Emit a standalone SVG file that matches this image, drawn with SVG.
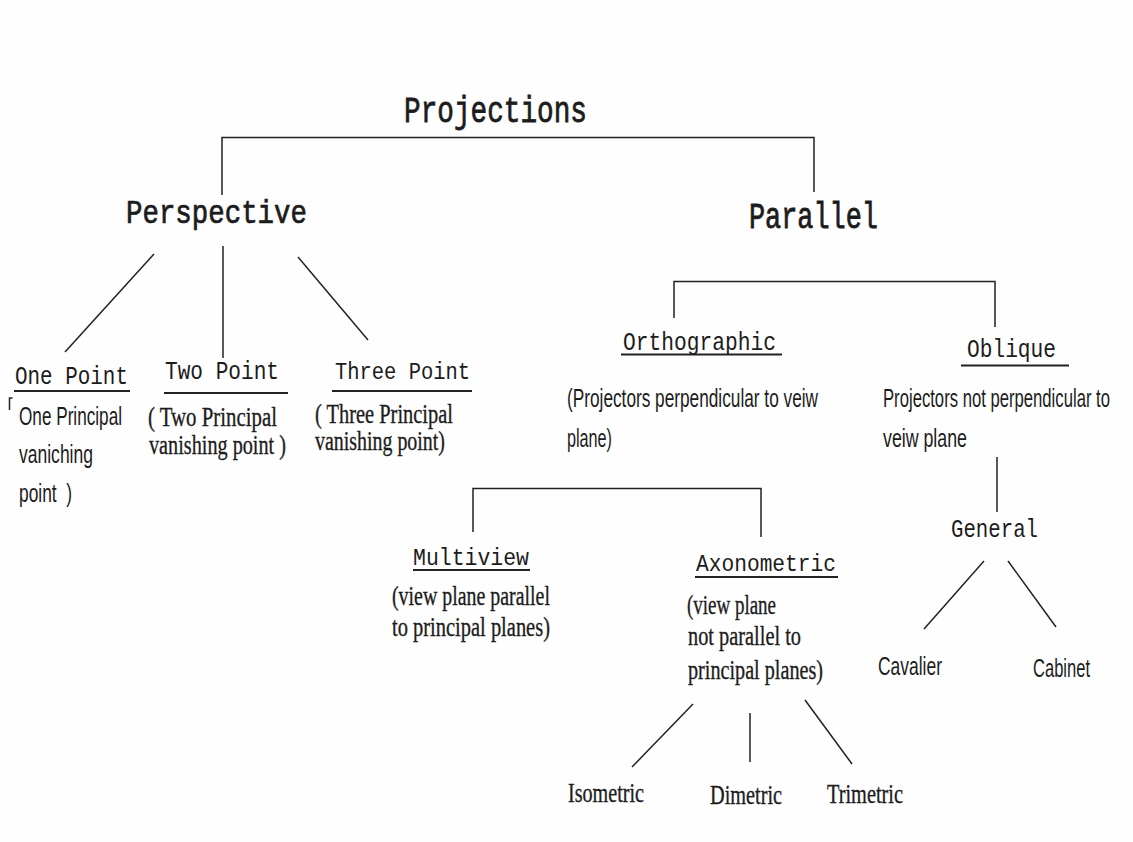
<svg xmlns="http://www.w3.org/2000/svg" width="1133" height="842" viewBox="0 0 1133 842">
<style>
.mono{font-family:"Liberation Mono","Courier New",monospace;fill:#1c1c1c}
.hd{stroke:#1c1c1c;stroke-width:0.6}
.sans{font-family:"Liberation Sans",Arial,sans-serif;font-size:17px;fill:#1c1c1c}
.serif{font-family:"Liberation Serif","Times New Roman",serif;font-size:20px;fill:#1c1c1c;stroke:#1c1c1c;stroke-width:0.25}
.ln{stroke:#222;stroke-width:1.5;fill:none}
.ul{stroke:#222;stroke-width:2;fill:none}
</style>
<rect width="1133" height="842" fill="#fefefe"/>
<g id="connectors">
<polyline class="ln" points="222,195 222,137.5 814,137.5 814,192"/>
<line class="ln" x1="154" y1="254" x2="65" y2="352"/>
<line class="ln" x1="223" y1="246" x2="223" y2="358"/>
<line class="ln" x1="298" y1="257" x2="368" y2="340"/>
<polyline class="ln" points="674,318 674,281.5 995,281.5 995,327"/>
<line class="ln" x1="997" y1="457" x2="997" y2="512"/>
<line class="ln" x1="984" y1="561" x2="924" y2="629"/>
<line class="ln" x1="1008" y1="561" x2="1056" y2="627"/>
<polyline class="ln" points="473,532 473,488.5 761,488.5 761,537"/>
<line class="ln" x1="693" y1="704" x2="632" y2="767"/>
<line class="ln" x1="750" y1="713" x2="750" y2="762"/>
<line class="ln" x1="805" y1="700" x2="852" y2="764"/>
</g>
<g id="projections"><text class="mono hd" x="404" y="122" font-size="27.7" textLength="183" lengthAdjust="spacingAndGlyphs" transform="matrix(1 0 0 1.3 0 -36.6)">Projections</text></g>
<g id="perspective"><text class="mono hd" x="126" y="223" font-size="27.4" textLength="181" lengthAdjust="spacingAndGlyphs" transform="matrix(1 0 0 1.24 0 -53.52)">Perspective</text></g>
<g id="parallel"><text class="mono hd" x="749" y="228" font-size="26.9" textLength="129" lengthAdjust="spacingAndGlyphs" transform="matrix(1 0 0 1.34 0 -77.52)">Parallel</text></g>
<g id="one-point">
<text class="mono" x="15" y="384" font-size="20.9" textLength="113" lengthAdjust="spacingAndGlyphs" transform="matrix(1 0 0 1.2 0 -76.8)">One Point</text>
<line class="ul" x1="14" y1="391" x2="130" y2="391"/>
<path class="ln" d="M12.5,398 L9.5,398 L9.5,410"/>
<text class="sans" x="19" y="425" textLength="103" lengthAdjust="spacingAndGlyphs" transform="matrix(1 0 0 1.55 0 -233.75)">One Principal</text>
<text class="sans" x="19" y="463" textLength="74" lengthAdjust="spacingAndGlyphs" transform="matrix(1 0 0 1.55 0 -254.65)">vaniching</text>
<text class="sans" x="19" y="502" textLength="53" lengthAdjust="spacingAndGlyphs" xml:space="preserve" transform="matrix(1 0 0 1.55 0 -276.1)">point  )</text>
</g>
<g id="two-point">
<text class="mono" x="165" y="379" font-size="21.1" textLength="114" lengthAdjust="spacingAndGlyphs" transform="matrix(1 0 0 1.2 0 -75.8)">Two Point</text>
<line class="ul" x1="164" y1="393" x2="288" y2="393"/>
<text class="serif" x="148" y="426" textLength="129" lengthAdjust="spacingAndGlyphs" transform="matrix(1 0 0 1.4 0 -170.4)">( Two Principal</text>
<text class="serif" x="149" y="454" textLength="137" lengthAdjust="spacingAndGlyphs" transform="matrix(1 0 0 1.4 0 -181.6)">vanishing point )</text>
</g>
<g id="three-point">
<text class="mono" x="335" y="379" font-size="20.5" textLength="135" lengthAdjust="spacingAndGlyphs" transform="matrix(1 0 0 1.2 0 -75.8)">Three Point</text>
<line class="ul" x1="332" y1="391" x2="472" y2="391"/>
<text class="serif" x="315" y="423" textLength="138" lengthAdjust="spacingAndGlyphs" transform="matrix(1 0 0 1.4 0 -169.2)">( Three Principal</text>
<text class="serif" x="315" y="450" textLength="130" lengthAdjust="spacingAndGlyphs" transform="matrix(1 0 0 1.4 0 -180)">vanishing point)</text>
</g>
<g id="orthographic">
<text class="mono" x="623" y="350" font-size="21.2" textLength="153" lengthAdjust="spacingAndGlyphs" transform="matrix(1 0 0 1.2 0 -70)">Orthographic</text>
<line class="ul" x1="621" y1="354.5" x2="782" y2="354.5"/>
<text class="sans" x="567" y="407" textLength="251" lengthAdjust="spacingAndGlyphs" transform="matrix(1 0 0 1.55 0 -223.85)">(Projectors perpendicular to veiw</text>
<text class="sans" x="567" y="447" textLength="45" lengthAdjust="spacingAndGlyphs" transform="matrix(1 0 0 1.55 0 -245.85)">plane)</text>
</g>
<g id="oblique">
<text class="mono" x="967" y="357" font-size="21.2" textLength="89" lengthAdjust="spacingAndGlyphs" transform="matrix(1 0 0 1.2 0 -71.4)">Oblique</text>
<line class="ul" x1="961" y1="365.5" x2="1069" y2="365.5"/>
<text class="sans" x="883" y="407" textLength="227" lengthAdjust="spacingAndGlyphs" transform="matrix(1 0 0 1.55 0 -223.85)">Projectors not perpendicular to</text>
<text class="sans" x="883" y="447" textLength="84" lengthAdjust="spacingAndGlyphs" transform="matrix(1 0 0 1.55 0 -245.85)">veiw plane</text>
</g>
<g id="general"><text class="mono" x="951" y="537" font-size="20.7" textLength="87" lengthAdjust="spacingAndGlyphs" transform="matrix(1 0 0 1.2 0 -107.4)">General</text></g>
<g id="cavalier"><text class="sans" x="878" y="675" textLength="64" lengthAdjust="spacingAndGlyphs" transform="matrix(1 0 0 1.55 0 -371.25)">Cavalier</text></g>
<g id="cabinet"><text class="sans" x="1033" y="677" textLength="57" lengthAdjust="spacingAndGlyphs" transform="matrix(1 0 0 1.55 0 -372.35)">Cabinet</text></g>
<g id="multiview">
<text class="mono" x="413" y="565" font-size="21.5" textLength="116" lengthAdjust="spacingAndGlyphs" transform="matrix(1 0 0 1.1 0 -56.5)">Multiview</text>
<line class="ul" x1="413" y1="570" x2="530" y2="570"/>
<text class="serif" x="392" y="605" textLength="158" lengthAdjust="spacingAndGlyphs" transform="matrix(1 0 0 1.4 0 -242)">(view plane parallel</text>
<text class="serif" x="392" y="636" textLength="158" lengthAdjust="spacingAndGlyphs" transform="matrix(1 0 0 1.4 0 -254.4)">to principal planes)</text>
</g>
<g id="axonometric">
<text class="mono" x="696" y="571" font-size="21.2" textLength="140" lengthAdjust="spacingAndGlyphs" transform="matrix(1 0 0 1.1 0 -57.1)">Axonometric</text>
<line class="ul" x1="695" y1="577" x2="838" y2="577"/>
<text class="serif" x="687" y="614" textLength="89" lengthAdjust="spacingAndGlyphs" transform="matrix(1 0 0 1.4 0 -245.6)">(view plane</text>
<text class="serif" x="688" y="645" textLength="113" lengthAdjust="spacingAndGlyphs" transform="matrix(1 0 0 1.4 0 -258)">not parallel to</text>
<text class="serif" x="688" y="679" textLength="135" lengthAdjust="spacingAndGlyphs" transform="matrix(1 0 0 1.4 0 -271.6)">principal planes)</text>
</g>
<g id="isometric"><text class="serif" x="568" y="802" textLength="76" lengthAdjust="spacingAndGlyphs" transform="matrix(1 0 0 1.4 0 -320.8)">Isometric</text></g>
<g id="dimetric"><text class="serif" x="710" y="804" textLength="72" lengthAdjust="spacingAndGlyphs" transform="matrix(1 0 0 1.4 0 -321.6)">Dimetric</text></g>
<g id="trimetric"><text class="serif" x="827" y="803" textLength="76" lengthAdjust="spacingAndGlyphs" transform="matrix(1 0 0 1.4 0 -321.2)">Trimetric</text></g>
</svg>
